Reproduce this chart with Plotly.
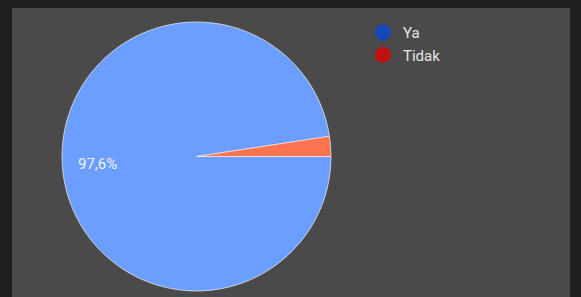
import math
import plotly.graph_objects as go

labels = ["Ya", "Tidak"]
values = [97.6, 2.4]
slice_colors = ["#6b9eff", "#ff7450"]
legend_colors = ["#1447b8", "#c01010"]

W, H = 581, 297
ml, mr, mt, mb = 12, 11, 8, 0
pw, ph = W - ml - mr, H - mt - mb
cx, cy, r = 196.5, 156.5, 134.5

fig = go.Figure()
fig.add_trace(go.Pie(
    labels=labels, values=values, sort=False, direction="clockwise", rotation=90,
    marker=dict(colors=slice_colors, line=dict(color="rgba(235,235,235,0.75)", width=1)),
    textinfo="none",
    showlegend=False, hoverinfo="label+percent",
    domain=dict(x=[(cx - r - ml) / pw, (cx + r - ml) / pw],
                y=[1 - (cy + r - mt) / ph, 1 - (cy - r - mt) / ph]),
))
for lab, col in zip(labels, legend_colors):
    fig.add_trace(go.Scatter(x=[None], y=[None], mode="markers", name=lab,
                             marker=dict(color=col, size=16, symbol="circle")))

# percentage label of the big slice, placed at its mid-angle
total = sum(values)
mid = (values[0] / 2) / total * 360.0  # clockwise degrees from 3 o'clock
tr = 0.74 * r
tx = cx + tr * math.cos(math.radians(mid))
ty = cy + tr * math.sin(math.radians(mid))
pct = f"{values[0] / total * 100:.1f}%".replace(".", ",")
fig.add_annotation(x=(tx - ml) / pw, y=1 - (ty - mt) / ph, xref="paper", yref="paper",
                   text=pct, showarrow=False, xanchor="center", yanchor="middle",
                   font=dict(family="Roboto", size=15, color="#f2f2f2"))

fig.update_layout(
    width=W, height=H, margin=dict(l=ml, r=mr, t=mt, b=mb),
    paper_bgcolor="#1f1f1f", plot_bgcolor="#4a4a4a",
    separators=",.",
    xaxis=dict(visible=False), yaxis=dict(visible=False),
    legend=dict(x=(383 - 20 - ml) / pw, y=1 - (16 - mt) / ph, xanchor="left", yanchor="top",
                bgcolor="rgba(0,0,0,0)", font=dict(family="Roboto", size=15, color="#e6e6e6"),
                tracegroupgap=0, itemwidth=30),
)
fig.write_html("out.html", config={"displayModeBar": False},
               post_script="document.body.style.margin='0';document.body.style.background='#1f1f1f';")
